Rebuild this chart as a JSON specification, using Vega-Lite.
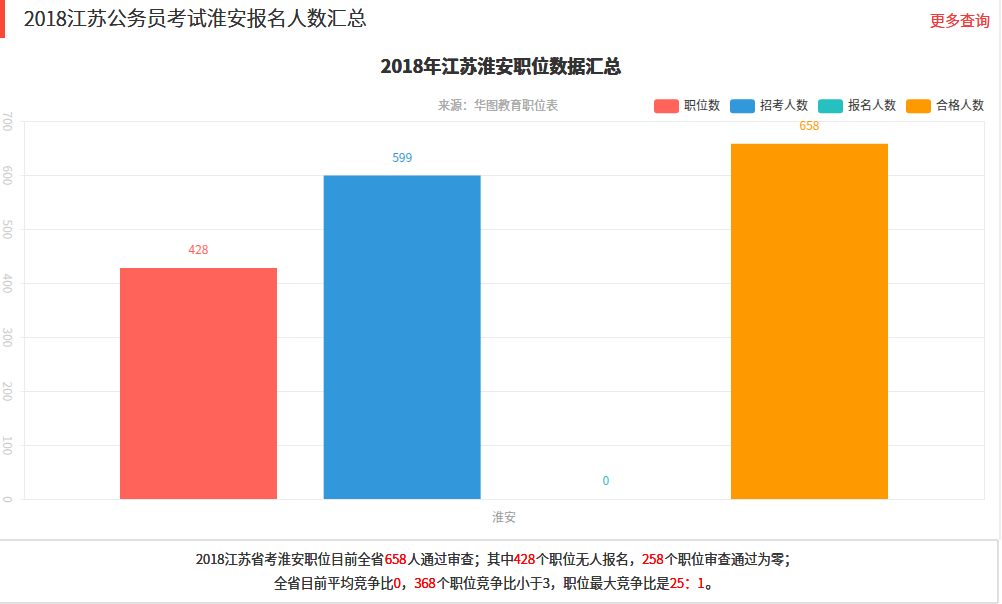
{
  "$schema": "https://vega.github.io/schema/vega-lite/v6.json",
  "width": 960,
  "height": 378,
  "autosize": {"type": "none"},
  "padding": {"left": 24, "top": 121, "right": 18, "bottom": 105},
  "background": "#ffffff",
  "config": {
    "font": "Noto Sans CJK SC",
    "view": {"stroke": "#ebebeb", "strokeWidth": 1}
  },
  "data": {
    "values": [
      {"city": "淮安", "series": "职位数", "value": 428},
      {"city": "淮安", "series": "招考人数", "value": 599},
      {"city": "淮安", "series": "报名人数", "value": 0},
      {"city": "淮安", "series": "合格人数", "value": 658}
    ]
  },
  "layer": [
    {
      "mark": {"type": "bar"},
      "encoding": {
        "x": {
          "field": "city", "type": "nominal",
          "scale": {"domain": ["淮安"], "paddingOuter": 0.125, "paddingInner": 0},
          "axis": {"title": null, "domainColor": "#ebebeb", "ticks": false, "tickSize": 0, "labelColor": "#999", "labelFontSize": 12, "labelPadding": 13, "labelAngle": 0}
        },
        "xOffset": {
          "field": "series", "type": "nominal",
          "scale": {"domain": ["职位数", "招考人数", "报名人数", "合格人数"], "paddingInner": 0.2291, "paddingOuter": 0}
        },
        "y": {
          "field": "value", "type": "quantitative",
          "scale": {"domain": [0, 700], "nice": false, "zero": true},
          "axis": {"title": null, "values": [0, 100, 200, 300, 400, 500, 600, 700], "domainColor": "#ebebeb", "gridColor": "#ebebeb", "tickColor": "#ebebeb", "tickSize": 4, "labelAngle": 90, "labelAlign": "center", "labelBaseline": "middle", "labelColor": "#cccccc", "labelFontSize": 12, "labelPadding": 13.5}
        },
        "color": {
          "field": "series", "type": "nominal",
          "scale": {"domain": ["职位数", "招考人数", "报名人数", "合格人数"], "range": ["#ff6359", "#3398db", "#26c0c0", "#ff9900"]},
          "legend": {
            "orient": "none", "legendX": 630, "legendY": -27.5, "direction": "horizontal", "title": null,
            "symbolType": "M-0.76,-0.56L0.76,-0.56Q1,-0.56 1,-0.32L1,0.32Q1,0.56 0.76,0.56L-0.76,0.56Q-1,0.56 -1,0.32L-1,-0.32Q-1,-0.56 -0.76,-0.56Z",
            "symbolSize": 625, "symbolStrokeWidth": 0, "symbolOpacity": 1,
            "labelFontSize": 12, "labelColor": "#333333", "labelOffset": 5, "columnPadding": 9, "padding": 0
          }
        }
      }
    },
    {
      "mark": {"type": "text", "fontSize": 12, "baseline": "middle", "dy": -18},
      "encoding": {
        "x": {"field": "city", "type": "nominal"},
        "xOffset": {"field": "series", "type": "nominal"},
        "y": {"field": "value", "type": "quantitative"},
        "text": {"field": "value", "type": "quantitative"},
        "color": {"field": "series", "type": "nominal", "legend": null}
      }
    },
    {
      "mark": {"type": "rule", "color": "#fb4736", "strokeWidth": 5},
      "encoding": {
        "x": {"datum": "淮安", "bandPosition": -0.1530},
        "y": {"datum": 924.07},
        "y2": {"datum": 853.7}
      }
    },
    {
      "mark": {"type": "rule", "color": "#eeeeee", "strokeWidth": 2},
      "encoding": {
        "x": {"datum": "淮安", "bandPosition": 1.1458},
        "y": {"datum": 924.07},
        "y2": {"datum": -75.93}
      }
    },
    {
      "mark": {"type": "rule", "color": "#dddddd", "strokeWidth": 1},
      "encoding": {
        "x": {"datum": "淮安", "bandPosition": -0.15625},
        "x2": {"datum": "淮安", "bandPosition": 1.1432},
        "y": {"datum": -75.93}
      }
    },
    {
      "mark": {"type": "rule", "color": "#dddddd", "strokeWidth": 1},
      "encoding": {
        "x": {"datum": "淮安", "bandPosition": -0.15625},
        "x2": {"datum": "淮安", "bandPosition": 1.1432},
        "y": {"datum": -192.6}
      }
    },
    {
      "mark": {"type": "rule", "color": "#dddddd", "strokeWidth": 1},
      "encoding": {
        "x": {"datum": "淮安", "bandPosition": 1.1432},
        "y": {"datum": -75.93},
        "y2": {"datum": -192.6}
      }
    },
    {
      "mark": {"type": "text", "text": "2018江苏公务员考试淮安报名人数汇总", "fontSize": 20, "fontWeight": 300, "color": "#333333", "align": "left", "baseline": "middle"},
      "encoding": {"x": {"datum": "淮安", "bandPosition": -0.125}, "y": {"datum": 887}}
    },
    {
      "mark": {"type": "text", "text": "更多查询", "fontSize": 15, "fontWeight": 300, "color": "#f23c3c", "align": "right", "baseline": "middle"},
      "encoding": {"x": {"datum": "淮安", "bandPosition": 1.1328}, "y": {"datum": 886}}
    },
    {
      "mark": {"type": "text", "text": "2018年江苏淮安职位数据汇总", "fontSize": 18, "fontWeight": "bold", "color": "#333333", "align": "center", "baseline": "middle"},
      "encoding": {"x": {"datum": "淮安", "bandPosition": 0.4961}, "y": {"datum": 798.1}}
    },
    {
      "mark": {"type": "text", "text": "来源：华图教育职位表", "fontSize": 12, "fontWeight": 300, "color": "#aaaaaa", "align": "center", "baseline": "middle"},
      "encoding": {"x": {"datum": "淮安", "bandPosition": 0.4922}, "y": {"datum": 727.8}}
    },
    {
      "mark": {"type": "text", "text": "2018江苏省考淮安职位目前全省", "dx": 0, "fontSize": 13.3, "fontWeight": 300, "color": "#333333", "align": "left", "baseline": "middle"},
      "encoding": {"x": {"datum": "淮安", "bandPosition": 0.09896}, "y": {"datum": -112.96}}
    },
    {
      "mark": {"type": "text", "text": "658", "dx": 189.1, "fontSize": 13.3, "fontWeight": 300, "color": "#ff0000", "align": "left", "baseline": "middle"},
      "encoding": {"x": {"datum": "淮安", "bandPosition": 0.09896}, "y": {"datum": -112.96}}
    },
    {
      "mark": {"type": "text", "text": "人通过审查；其中", "dx": 211.3, "fontSize": 13.3, "fontWeight": 300, "color": "#333333", "align": "left", "baseline": "middle"},
      "encoding": {"x": {"datum": "淮安", "bandPosition": 0.09896}, "y": {"datum": -112.96}}
    },
    {
      "mark": {"type": "text", "text": "428", "dx": 317.7, "fontSize": 13.3, "fontWeight": 300, "color": "#ff0000", "align": "left", "baseline": "middle"},
      "encoding": {"x": {"datum": "淮安", "bandPosition": 0.09896}, "y": {"datum": -112.96}}
    },
    {
      "mark": {"type": "text", "text": "个职位无人报名，", "dx": 339.8, "fontSize": 13.3, "fontWeight": 300, "color": "#333333", "align": "left", "baseline": "middle"},
      "encoding": {"x": {"datum": "淮安", "bandPosition": 0.09896}, "y": {"datum": -112.96}}
    },
    {
      "mark": {"type": "text", "text": "258", "dx": 446.2, "fontSize": 13.3, "fontWeight": 300, "color": "#ff0000", "align": "left", "baseline": "middle"},
      "encoding": {"x": {"datum": "淮安", "bandPosition": 0.09896}, "y": {"datum": -112.96}}
    },
    {
      "mark": {"type": "text", "text": "个职位审查通过为零；", "dx": 468.4, "fontSize": 13.3, "fontWeight": 300, "color": "#333333", "align": "left", "baseline": "middle"},
      "encoding": {"x": {"datum": "淮安", "bandPosition": 0.09896}, "y": {"datum": -112.96}}
    },
    {
      "mark": {"type": "text", "text": "全省目前平均竞争比", "dx": 0, "fontSize": 13.3, "fontWeight": 300, "color": "#333333", "align": "left", "baseline": "middle"},
      "encoding": {"x": {"datum": "淮安", "bandPosition": 0.2005}, "y": {"datum": -157.4}}
    },
    {
      "mark": {"type": "text", "text": "0", "dx": 119.7, "fontSize": 13.3, "fontWeight": 300, "color": "#ff0000", "align": "left", "baseline": "middle"},
      "encoding": {"x": {"datum": "淮安", "bandPosition": 0.2005}, "y": {"datum": -157.4}}
    },
    {
      "mark": {"type": "text", "text": "，", "dx": 127.1, "fontSize": 13.3, "fontWeight": 300, "color": "#333333", "align": "left", "baseline": "middle"},
      "encoding": {"x": {"datum": "淮安", "bandPosition": 0.2005}, "y": {"datum": -157.4}}
    },
    {
      "mark": {"type": "text", "text": "368", "dx": 140.4, "fontSize": 13.3, "fontWeight": 300, "color": "#ff0000", "align": "left", "baseline": "middle"},
      "encoding": {"x": {"datum": "淮安", "bandPosition": 0.2005}, "y": {"datum": -157.4}}
    },
    {
      "mark": {"type": "text", "text": "个职位竞争比小于3，职位最大竞争比是", "dx": 162.5, "fontSize": 13.3, "fontWeight": 300, "color": "#333333", "align": "left", "baseline": "middle"},
      "encoding": {"x": {"datum": "淮安", "bandPosition": 0.2005}, "y": {"datum": -157.4}}
    },
    {
      "mark": {"type": "text", "text": "25：1", "dx": 396.0, "fontSize": 13.3, "fontWeight": 300, "color": "#ff0000", "align": "left", "baseline": "middle"},
      "encoding": {"x": {"datum": "淮安", "bandPosition": 0.2005}, "y": {"datum": -157.4}}
    },
    {
      "mark": {"type": "text", "text": "。", "dx": 431.5, "fontSize": 13.3, "fontWeight": 300, "color": "#333333", "align": "left", "baseline": "middle"},
      "encoding": {"x": {"datum": "淮安", "bandPosition": 0.2005}, "y": {"datum": -157.4}}
    }
  ]
}
